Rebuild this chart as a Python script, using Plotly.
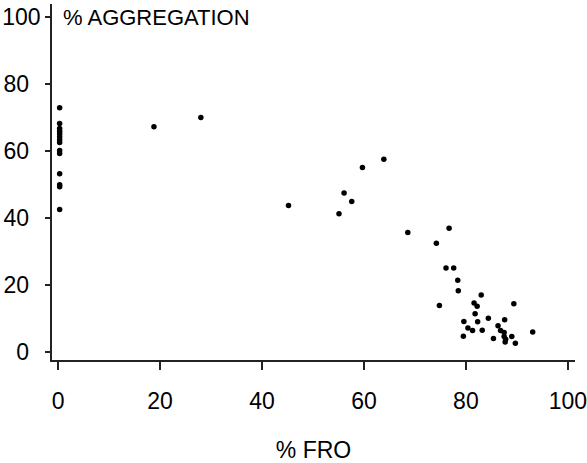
import plotly.graph_objects as go

# % FRO (x) and % AGGREGATION (y)
fro = [0.3, 0.3, 0.3, 0.3, 0.3, 0.3, 0.3, 0.3, 0.3, 0.3, 0.3, 0.3, 0.3, 0.3,
       18.8, 28.0, 45.2, 55.1, 56.1, 57.6, 59.7, 63.9, 68.6,
       76.7, 74.2, 76.1, 77.6, 78.4, 78.5, 74.8, 83.0, 81.6, 82.2, 89.4,
       81.8, 84.4, 79.6, 82.3, 87.6, 80.4, 81.3, 83.2, 86.3, 86.8,
       79.5, 85.4, 87.5, 87.5, 87.8, 87.7, 89.0, 89.7, 93.1]
agg = [73.0, 68.3, 66.8, 66.0, 65.2, 64.3, 63.4, 62.6, 60.2, 59.3, 53.3, 50.0, 49.4, 42.6,
       67.3, 70.1, 43.8, 41.3, 47.5, 45.0, 55.1, 57.6, 35.7,
       37.0, 32.5, 25.1, 25.1, 21.4, 18.3, 13.9, 17.0, 14.6, 13.7, 14.4,
       11.4, 10.1, 9.1, 9.0, 9.6, 7.2, 6.4, 6.5, 7.8, 6.4,
       4.7, 4.0, 5.8, 4.6, 3.8, 3.0, 4.6, 2.6, 6.0]

tick_vals = [0, 20, 40, 60, 80, 100]
x_tick_text = ["0", "20", "40", "60", "80", "100"]
y_tick_text = ["0\u2002\u200b", "20\u2002\u200b", "40\u2002\u200b", "60\u2002\u200b", "80\u2002\u200b", "100"]

FONT = "Liberation Sans, Arial, sans-serif"

fig = go.Figure()
fig.add_trace(go.Scatter(
    x=fro, y=agg, mode="markers",
    marker=dict(color="black", size=5.5, symbol="circle"),
    showlegend=False,
))

fig.update_layout(
    width=587, height=463,
    margin=dict(l=52, r=12, t=4, b=103, pad=0),
    paper_bgcolor="white", plot_bgcolor="white",
    font=dict(family=FONT, size=22, color="black"),
    xaxis=dict(
        range=[-1.2, 101.4], tickvals=tick_vals, ticktext=x_tick_text,
        showgrid=False, zeroline=False, showline=True, linecolor="#222",
        linewidth=1.5, ticks="outside", ticklen=8, tickwidth=1.5, tickcolor="#222",
        ticklabelstandoff=12, ticklabeloverflow="allow", automargin=False,
        tickfont=dict(family=FONT, size=23, color="black"),
        title=dict(text="% FRO", font=dict(family=FONT, size=23, color="black"), standoff=31),
    ),
    yaxis=dict(
        range=[-2.4, 104], tickvals=tick_vals, ticktext=y_tick_text,
        showgrid=False, zeroline=False, showline=True, linecolor="#222",
        linewidth=1.5, ticks="outside", ticklen=5, tickwidth=1.5, tickcolor="#222",
        ticklabeloverflow="allow", automargin=False,
        tickfont=dict(family=FONT, size=23, color="black"),
    ),
    annotations=[dict(
        text="% AGGREGATION", xref="x", yref="y", x=0.6, y=100,
        xanchor="left", yanchor="middle", showarrow=False,
        font=dict(family=FONT, size=22, color="black"),
    )],
)

fig.write_html("out.html")
